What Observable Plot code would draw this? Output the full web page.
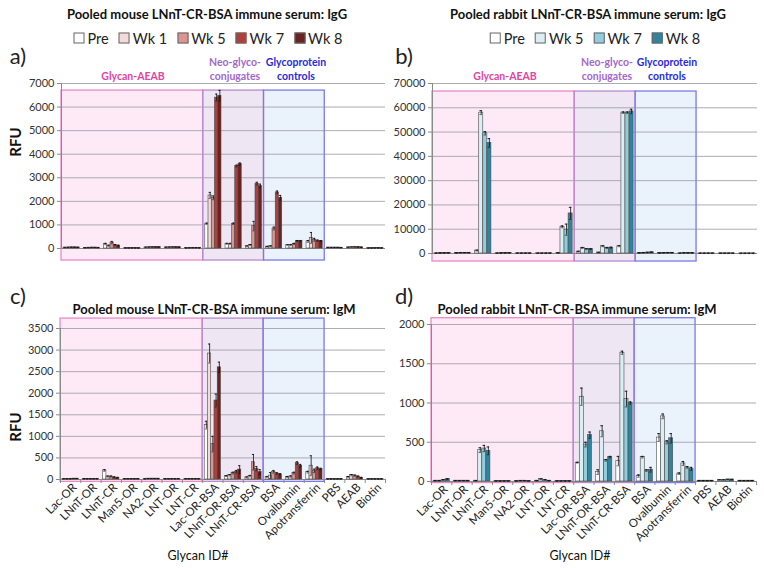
<!DOCTYPE html>
<html><head><meta charset="utf-8">
<script src="https://cdn.jsdelivr.net/npm/d3@7"></script>
<script src="https://cdn.jsdelivr.net/npm/@observablehq/plot@0.6"></script>
<style>
body{margin:0;background:#fff;font-family:Lato,"Open Sans",sans-serif;}
#fig{position:relative;width:764px;height:568px;overflow:hidden;background:#fff}
.t{position:absolute;transform:translate(-50%,-50%);white-space:nowrap;color:#111}
.ttl{font-weight:700;font-size:13px;color:#111}
.pl{font-size:22px;color:#222}
.rfu{font-weight:700;font-size:15px;transform:translate(-50%,-50%) rotate(-90deg)}
.reg{font-weight:700;font-size:10.5px;text-align:center;line-height:14px}
.xl{font-size:12.5px;color:#111}
.leg{position:absolute;display:flex;gap:10px;transform:translate(-50%,-50%);font-size:14.5px;color:#222;white-space:nowrap;align-items:center}
.leg .sw{display:inline-block;width:9px;height:9px;border:1px solid #666;margin-right:3px}
.pw{position:absolute}
</style></head>
<body><div id="fig"></div>
<script>
// ---------- data ----------
const categories = ["Lac-OR","LNnT-OR","LNnT-CR","Man5-OR","NA2-OR","LNT-OR","LNT-CR","Lac-OR-BSA","LNnT-OR-BSA","LNnT-CR-BSA","BSA","Ovalbumin","Apotransferrin","PBS","AEAB","Biotin"];
const mouseSeries = ["Pre","Wk 1","Wk 5","Wk 7","Wk 8"];
const mouseColors = ["#ffffff","#f2dcdb","#d99694","#b0403d","#6b2222"];
const rabbitSeries = ["Pre","Wk 5","Wk 7","Wk 8"];
const rabbitColors = ["#ffffff","#dbeef3","#93cddd","#31849b"];

const regionNames = ["Glycan-AEAB","Neo-glyco-conjugates","Glycoprotein controls"];
const regionStart = [0, 7, 10];
const regionEnd = [7, 10, 13];
const regionFill = ["#fdeaf6","#efe6f3","#eaf2fb"];
const regionStroke = ["#e88ac8","#b98ad0","#7b7be8"];

// a) mouse IgG
const aPre = [40,30,190,20,50,50,20,1050,200,100,80,150,300,40,50,15];
const aWk1 = [45,35,120,20,55,55,25,2250,200,150,100,150,450,40,60,15];
const aWk5 = [50,40,250,20,60,60,30,2150,1050,950,850,200,370,40,65,20];
const aWk7 = [50,40,150,20,65,60,30,6400,3500,2750,2380,320,330,40,60,20];
const aWk8 = [45,35,120,15,60,55,25,6480,3580,2650,2150,320,310,35,50,15];
const aErrPre = [5,5,30,3,5,5,3,30,20,10,10,10,40,5,5,3];
const aErrWk1 = [5,5,20,3,5,5,3,130,20,20,10,20,230,5,5,3];
const aErrWk5 = [5,5,50,3,5,5,3,80,30,200,60,20,60,5,5,3];
const aErrWk7 = [5,5,20,3,5,5,3,150,40,60,60,20,30,5,5,3];
const aErrWk8 = [5,5,20,3,5,5,3,230,50,80,100,20,30,5,5,3];

// b) rabbit IgG
const bPre = [100,200,1200,100,100,100,200,800,400,3000,200,150,100,80,80,50];
const bWk5 = [150,300,58000,150,100,100,11000,2300,3000,58000,300,250,200,80,80,50];
const bWk7 = [150,300,49500,200,100,100,9800,1800,2300,58000,400,300,200,80,80,50];
const bWk8 = [200,300,45500,200,100,100,16500,1800,2400,58500,500,300,200,80,80,50];
const bErrPre = [100,100,200,100,100,100,100,100,100,200,100,100,100,100,100,100];
const bErrWk5 = [100,100,800,100,100,100,400,200,200,300,100,100,100,100,100,100];
const bErrWk7 = [100,100,700,100,100,100,2300,200,200,300,100,100,100,100,100,100];
const bErrWk8 = [100,100,1800,100,100,100,2500,200,200,900,100,100,100,100,100,100];

// c) mouse IgM
const cPre = [15,15,210,15,15,15,15,1260,80,50,60,60,170,10,60,10];
const cWk1 = [15,15,70,15,20,15,15,2920,100,80,90,70,320,10,100,10];
const cWk5 = [15,15,70,15,20,15,15,820,150,400,180,150,200,10,90,10];
const cWk7 = [20,15,50,15,20,15,15,1830,180,250,140,380,260,10,70,10];
const cWk8 = [20,15,40,15,20,15,15,2600,230,170,120,320,240,10,40,10];
const cErrPre = [3,3,20,3,3,3,3,90,10,10,10,10,20,3,10,3];
const cErrWk1 = [3,3,10,3,3,3,3,220,15,15,70,15,230,3,15,3];
const cErrWk5 = [3,3,10,3,3,3,3,180,20,180,30,20,40,3,15,3];
const cErrWk7 = [3,3,10,3,3,3,3,150,30,50,20,30,30,3,10,3];
const cErrWk8 = [3,3,10,3,3,3,3,120,90,60,15,30,20,3,10,3];

// d) rabbit IgM
const dPre = [10,10,10,5,5,10,5,240,120,260,70,560,100,10,20,10];
const dWk5 = [10,10,400,5,10,30,5,1080,640,1640,310,830,230,10,20,10];
const dWk7 = [20,10,420,5,10,20,5,470,270,1050,140,500,180,10,25,10];
const dWk8 = [30,10,390,5,5,10,5,590,310,1000,150,550,160,10,25,10];
const dErrPre = [3,3,3,2,2,3,2,5,30,60,15,50,10,3,3,3];
const dErrWk5 = [3,3,30,2,2,5,2,110,70,20,10,30,25,3,3,3];
const dErrWk7 = [5,3,40,2,2,5,2,30,10,100,10,20,10,3,3,3];
const dErrWk8 = [5,3,50,2,2,3,2,40,10,15,30,60,20,3,3,3];

// ---------- helpers ----------
const fig = document.getElementById("fig");
function addText(html, x, y, cls, style) {
  const d = document.createElement("div");
  d.className = "t " + cls;
  d.innerHTML = html;
  d.style.left = x + "px"; d.style.top = y + "px";
  if (style) Object.assign(d.style, style);
  fig.appendChild(d);
}
function addLegend(series, colors, x, y) {
  const d = document.createElement("div");
  d.className = "leg";
  d.style.left = x + "px"; d.style.top = y + "px";
  series.forEach((s, j) => {
    const it = document.createElement("span");
    it.style.display = "inline-flex"; it.style.alignItems = "center";
    it.innerHTML = `<span class="sw" style="background:${colors[j]}"></span>${s}`;
    d.appendChild(it);
  });
  fig.appendChild(d);
}
function buildBars(vals, errs, colors) {
  const n = vals.length, bw = 0.8 / n;
  const out = [];
  categories.forEach((c, i) => {
    vals.forEach((arr, j) => {
      const x1 = i + 0.1 + j * bw;
      out.push({x1, x2: x1 + bw, xc: x1 + bw / 2, cw: bw * 0.32, v: arr[i], e: errs[j][i], fill: colors[j]});
    });
  });
  return out;
}
function panel(cfg) {
  const bars = buildBars(cfg.vals, cfg.errs, cfg.colors);
  const regions = regionNames.map((r, k) => ({start: regionStart[k], end: regionEnd[k], fill: regionFill[k], stroke: regionStroke[k]}));
  const ymax = cfg.ticks[cfg.ticks.length - 1];
  const marks = [
    Plot.rect(regions, {x1: "start", x2: "end", y1: cfg.boxY[0], y2: cfg.boxY[1], fill: "fill"}),
    Plot.ruleY(cfg.ticks, {stroke: "#a3a3ad", strokeWidth: 0.9}),
    Plot.rect(regions, {x1: "start", x2: "end", y1: cfg.boxY[0], y2: cfg.boxY[1], fill: "none", stroke: "stroke", strokeWidth: 1.3}),
    Plot.ruleX([0], {y1: 0, y2: ymax, stroke: "#8a8a8a"}),
    Plot.axisY(cfg.ticks, {label: null, tickSize: 4, tickPadding: 3, tickFormat: d => String(d), fontSize: 11, stroke: "#8a8a8a", color: "#333"}),
    Plot.ruleY([0], {stroke: "#8a8a8a"}),
    Plot.rectY(bars, {x1: "x1", x2: "x2", y1: 0, y2: "v", fill: "fill", stroke: "#4a4a4a", strokeWidth: 0.6}),
    Plot.ruleX(bars, {x: "xc", y1: d => d.v - d.e, y2: d => d.v + d.e, stroke: "#111", strokeWidth: 0.8}),
    Plot.ruleY(bars, {y: d => d.v + d.e, x1: d => d.xc - d.cw, x2: d => d.xc + d.cw, stroke: "#111", strokeWidth: 0.9}),
    Plot.ruleY(bars, {y: d => d.v - d.e, x1: d => d.xc - d.cw, x2: d => d.xc + d.cw, stroke: "#111", strokeWidth: 0.6})
  ];
  if (cfg.showX) {
    marks.push(Plot.axisX(d3.range(categories.length + 1), {label: null, tickSize: 4, tickFormat: () => "", stroke: "#8a8a8a"}));
    marks.push(Plot.axisX(categories.map((c, i) => i + 0.5), {label: null, tickSize: 0, tickPadding: 6, dx: 4, tickRotate: -45, tickFormat: d => categories[Math.floor(d)], fontSize: 11.5, color: "#222"}));
  }
  const svg = Plot.plot({
    width: cfg.width, height: cfg.height,
    marginLeft: cfg.ml, marginRight: cfg.mr, marginTop: cfg.mt, marginBottom: cfg.mb,
    x: {domain: [0, categories.length], label: null, axis: cfg.showX ? undefined : null},
    y: {domain: [0, ymax], label: null},
    color: {type: "identity"},
    style: {fontFamily: "Lato, 'Open Sans', sans-serif", fontSize: "11px", background: "transparent", overflow: "visible"},
    marks
  });
  const w = document.createElement("div");
  w.className = "pw";
  w.style.left = cfg.left + "px"; w.style.top = cfg.top + "px";
  w.appendChild(svg);
  fig.appendChild(w);
}

// ---------- panels ----------
panel({left: 0, top: 70, width: 386, height: 200, ml: 61, mr: 1, mt: 13, mb: 22,
  vals: [aPre, aWk1, aWk5, aWk7, aWk8], errs: [aErrPre, aErrWk1, aErrWk5, aErrWk7, aErrWk8],
  colors: mouseColors, ticks: d3.range(0, 7001, 1000), boxY: [-510, 6700], showX: false});
panel({left: 382, top: 70, width: 382, height: 205, ml: 50, mr: 7, mt: 13, mb: 22,
  vals: [bPre, bWk5, bWk7, bWk8], errs: [bErrPre, bErrWk5, bErrWk7, bErrWk8],
  colors: rabbitColors, ticks: d3.range(0, 70001, 10000), boxY: [-3300, 66700], showX: false});
panel({left: 0, top: 315, width: 386, height: 239, ml: 60, mr: 1, mt: 13, mb: 75,
  vals: [cPre, cWk1, cWk5, cWk7, cWk8], errs: [cErrPre, cErrWk1, cErrWk5, cErrWk7, cErrWk8],
  colors: mouseColors, ticks: d3.range(0, 3501, 500), boxY: [-55, 3730], showX: true});
panel({left: 382, top: 315, width: 382, height: 239, ml: 49, mr: 8, mt: 9, mb: 73,
  vals: [dPre, dWk5, dWk7, dWk8], errs: [dErrPre, dErrWk5, dErrWk7, dErrWk8],
  colors: rabbitColors, ticks: d3.range(0, 2001, 500), boxY: [-20, 2080], showX: true});

// ---------- text ----------
addText("Pooled mouse LNnT-CR-BSA immune serum: IgG", 207, 14, "ttl");
addText("Pooled rabbit LNnT-CR-BSA immune serum: IgG", 588, 14, "ttl");
addLegend(mouseSeries, mouseColors, 208, 38);
addLegend(rabbitSeries, rabbitColors, 595, 38);
addText("a)", 18, 55, "pl");
addText("b)", 404, 55, "pl");
addText("c)", 18, 295, "pl");
addText("d)", 404, 295, "pl");
addText("Pooled mouse LNnT-CR-BSA immune serum: IgM", 214, 309, "ttl");
addText("Pooled rabbit LNnT-CR-BSA immune serum: IgM", 577, 309, "ttl");
addText("RFU", 15, 142, "rfu");
addText("RFU", 15, 427, "rfu");
addText("Glycan ID#", 198, 555, "xl");
addText("Glycan ID#", 580, 555, "xl");
addText("Glycan-AEAB", 133, 76, "reg", {color: "#e0459f"});
addText("Neo-glyco-<br>conjugates", 235, 69, "reg", {color: "#a368c8"});
addText("Glycoprotein<br>controls", 296, 69, "reg", {color: "#2b2bd6"});
addText("Glycan-AEAB", 505, 76, "reg", {color: "#e0459f"});
addText("Neo-glyco-<br>conjugates", 607, 69, "reg", {color: "#a368c8"});
addText("Glycoprotein<br>controls", 667, 69, "reg", {color: "#2b2bd6"});
</script>
</body></html>
